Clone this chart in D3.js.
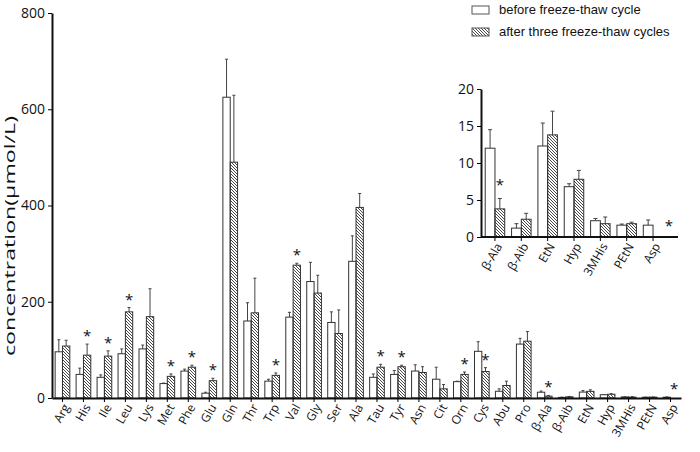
<!DOCTYPE html>
<html>
<head>
<meta charset="utf-8">
<script src="https://cdn.jsdelivr.net/npm/d3@7"></script>
<style>
  body { margin: 0; background: #fff; }
  svg text { font-family: "Open Sans", "Noto Sans", sans-serif; fill: #111; }
</style>
</head>
<body>
<div id="chart"></div>
<script>
// main chart data (μmol/L)
const categories = ["Arg", "His", "Ile", "Leu", "Lys", "Met", "Phe", "Glu", "Gln", "Thr",
  "Trp", "Val", "Gly", "Ser", "Ala", "Tau", "Tyr", "Asn", "Cit", "Orn",
  "Cys", "Abu", "Pro", "β-Ala", "β-Aib", "EtN", "Hyp", "3MHis", "PEtN", "Asp"];
const beforeVals = [96, 49, 43, 92, 102, 30, 56, 10, 625, 160,
  35, 168, 242, 157, 284, 43, 49, 56, 39, 34,
  97, 14, 112, 12, 1.2, 12.3, 6.8, 2.2, 1.6, 1.6];
const beforeErr = [25, 13, 5, 10, 8, 1, 4, 2, 79, 38,
  4, 10, 40, 22, 53, 7, 8, 13, 25, 1,
  20, 5, 12, 2.5, 0.6, 3.1, 0.4, 0.3, 0.15, 0.7];
const afterVals = [108, 89, 87, 179, 169, 45, 64, 36, 490, 177,
  47, 276, 218, 134, 396, 64, 65, 53, 19, 49,
  55, 26, 118, 3.8, 2.4, 13.8, 7.8, 1.8, 1.8, 0];
const afterErr = [12, 23, 11, 9, 58, 5, 4, 5, 139, 72,
  5, 4, 37, 49, 29, 6, 3, 12, 9, 5,
  8, 9, 20, 1.4, 0.8, 3.2, 1.2, 0.9, 0.2, 0];
const starred = ["His", "Ile", "Leu", "Met", "Phe", "Glu", "Trp", "Val", "Tau", "Tyr", "Orn", "Cys", "β-Ala", "Asp"];
const yTicks = [0, 200, 400, 600, 800];

// inset: the small amino acids on a 0-20 scale
const insetCats = ["β-Ala", "β-Aib", "EtN", "Hyp", "3MHis", "PEtN", "Asp"];
const insetTicks = [0, 5, 10, 15, 20];

const legendLabels = ["before freeze-thaw cycle", "after three freeze-thaw cycles"];

const width = 700, height = 452;
const svg = d3.select("#chart").append("svg")
  .attr("width", width).attr("height", height);

// diagonal hatch "\\\"
const defs = svg.append("defs");
defs.append("pattern")
  .attr("id", "hatch")
  .attr("patternUnits", "userSpaceOnUse")
  .attr("width", 3).attr("height", 3)
  .append("path")
  .attr("d", "M0,0 l3,3 M-1,2 l2,2 M2,-1 l2,2")
  .attr("stroke", "#333")
  .attr("stroke-width", 0.9);

const rows = categories.map((c, i) => ({
  cat: c,
  before: beforeVals[i], beforeErr: beforeErr[i],
  after: afterVals[i], afterErr: afterErr[i],
  star: starred.includes(c)
}));

function drawGroup(g, data, x, y, opts) {
  const x1 = d3.scaleBand().domain(["before", "after"]).range([0, x.bandwidth()]);
  const series = [];
  data.forEach(d => {
    series.push({ cat: d.cat, key: "before", v: d.before, e: d.beforeErr });
    if (d.after > 0) series.push({ cat: d.cat, key: "after", v: d.after, e: d.afterErr });
  });

  // error bars (upper only)
  const eb = g.append("g").attr("stroke", "#444").attr("stroke-width", 1);
  series.filter(s => s.e > 0).forEach(s => {
    const cx = x(s.cat) + x1(s.key) + x1.bandwidth() / 2;
    eb.append("line").attr("x1", cx).attr("x2", cx)
      .attr("y1", y(s.v)).attr("y2", y(s.v + s.e));
    eb.append("line").attr("x1", cx - opts.cap).attr("x2", cx + opts.cap)
      .attr("y1", y(s.v + s.e)).attr("y2", y(s.v + s.e));
  });

  g.append("g").selectAll("rect")
    .data(series)
    .join("rect")
    .attr("x", s => x(s.cat) + x1(s.key))
    .attr("y", s => y(s.v))
    .attr("width", x1.bandwidth())
    .attr("height", s => y(0) - y(s.v))
    .attr("fill", s => s.key === "before" ? "#fff" : "url(#hatch)")
    .attr("stroke", "#333")
    .attr("stroke-width", 1);

  // significance marks
  g.append("g").selectAll("text")
    .data(data.filter(d => d.star))
    .join("text")
    .attr("x", d => x(d.cat) + x1("after") + x1.bandwidth() / 2 + (d.after > 0 ? 0 : opts.emptyShift))
    .attr("y", d => d.after > 0
      ? y(d.after + d.afterErr) - opts.starGap
      : y(d.before) + opts.emptyDy)
    .attr("text-anchor", "middle")
    .style("font-size", "15px")
    .text("*");
}

// ---- main chart ----
const x = d3.scaleBand().domain(categories).range([52, 681])
  .paddingInner(0.3).paddingOuter(0.15);
const y = d3.scaleLinear().domain([0, 800]).range([398, 13]);

const main = svg.append("g");
drawGroup(main, rows, x, y, { cap: 1.5, starGap: 3, emptyShift: 0, emptyDy: -3 });

const yAxis = main.append("g")
  .attr("transform", "translate(52,0)")
  .call(d3.axisLeft(y).tickValues(yTicks).tickSize(4).tickSizeOuter(0).tickPadding(3));
yAxis.selectAll("text").style("font-size", "14px");

const xAxis = main.append("g")
  .attr("transform", "translate(0,398)")
  .call(d3.axisBottom(x).tickSize(4).tickSizeOuter(0));
xAxis.selectAll("text")
  .style("font-size", "12px")
  .attr("text-anchor", "end")
  .attr("transform", "translate(4,7) rotate(-60)")
  .attr("dy", "0.35em").attr("y", 0).attr("x", 0);
main.selectAll(".domain").attr("stroke", "#111").attr("stroke-width", 2);

// the source figure is stretched vertically, so the rotated title runs long
main.append("text")
  .attr("transform", "translate(15,236) rotate(-90)")
  .attr("text-anchor", "middle")
  .attr("textLength", 240)
  .attr("lengthAdjust", "spacingAndGlyphs")
  .style("font-size", "14px")
  .text("concentration(μmol/L)");

// ---- inset ----
const insetRows = rows.filter(d => insetCats.includes(d.cat));
const xi = d3.scaleBand().domain(insetCats).range([481, 667])
  .paddingInner(0.26).paddingOuter(0.16);
const yi = d3.scaleLinear().domain([0, 20]).range([237, 89]);

const inset = svg.append("g");
drawGroup(inset, insetRows, xi, yi, { cap: 2, starGap: 9, emptyShift: 11, emptyDy: 6 });

const yiAxis = inset.append("g")
  .attr("transform", "translate(481,0)")
  .call(d3.axisLeft(yi).tickValues(insetTicks).tickSize(4).tickSizeOuter(0).tickPadding(3));
yiAxis.selectAll("text").style("font-size", "14px");

const xiAxis = inset.append("g")
  .attr("transform", "translate(0,237)")
  .call(d3.axisBottom(xi).tickSize(4).tickSizeOuter(0));
xiAxis.select(".domain").remove();
xiAxis.selectAll("text")
  .style("font-size", "12px")
  .attr("text-anchor", "end")
  .attr("transform", "translate(4,7) rotate(-60)")
  .attr("dy", "0.35em").attr("y", 0).attr("x", 0);
inset.append("line")
  .attr("x1", 481).attr("x2", 678).attr("y1", 237).attr("y2", 237)
  .attr("stroke", "#111").attr("stroke-width", 2);
inset.selectAll(".domain").attr("stroke", "#111").attr("stroke-width", 2);

// ---- legend ----
const legend = svg.append("g").attr("transform", "translate(472,6)");
legendLabels.forEach((lab, i) => {
  const row = legend.append("g").attr("transform", `translate(0,${i * 22})`);
  row.append("rect")
    .attr("width", 17).attr("height", 8)
    .attr("fill", i === 0 ? "#fff" : "url(#hatch)")
    .attr("stroke", "#555").attr("stroke-width", 1);
  row.append("text")
    .attr("x", 27).attr("y", 8)
    .style("font-family", "'Liberation Sans', Arial, sans-serif")
    .style("font-size", "13px")
    .text(lab);
});
</script>
</body>
</html>
